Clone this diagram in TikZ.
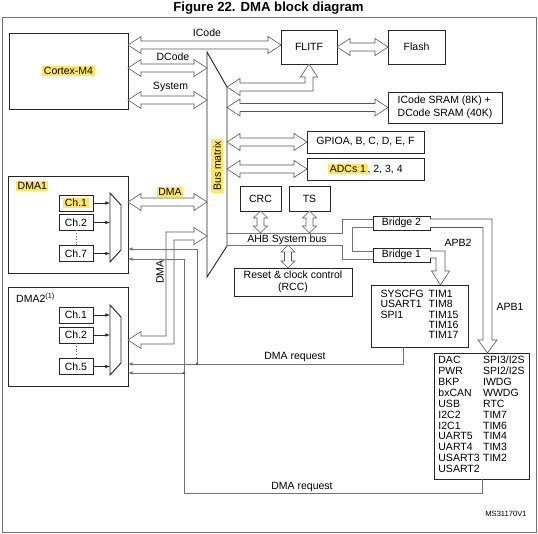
\documentclass[tikz,border=0pt]{standalone}
\usepackage{fontspec}
\setmainfont{Liberation Sans}
\usepackage{xcolor}
\usetikzlibrary{arrows,positioning,calc}
\definecolor{hl}{RGB}{255,230,95}
\newcommand\hlt[1]{{\setlength{\fboxsep}{1.5pt}\colorbox{hl}{#1}}}
% wide hollow two-headed bus arrows
\newcommand\hbus[2]{\draw[busline] let \p1=#1, \p2=#2 in
  (\x1,\y1) -- ++(13pt,8.5pt) -- ++(0pt,-4.5pt) -- (\x2-13pt,\y1+4pt) -- ++(0pt,4.5pt)
  -- (\x2,\y1) -- ++(-13pt,-8.5pt) -- ++(0pt,4.5pt) -- (\x1+13pt,\y1-4pt) -- ++(0pt,-4.5pt) -- cycle;}
\newcommand\vbus[2]{\draw[busline] let \p1=#1, \p2=#2 in
  (\x1,\y1) -- ++(7pt,-7pt) -- ++(-3.5pt,0pt) -- (\x1+3.5pt,\y2+7pt) -- ++(3.5pt,0pt)
  -- (\x1,\y2) -- ++(-7pt,7pt) -- ++(3.5pt,0pt) -- (\x1-3.5pt,\y1-7pt) -- ++(-3.5pt,0pt) -- cycle;}

\begin{document}
\begin{tikzpicture}[x=1pt, y=-1pt,
    every node/.style={font=\fontsize{10.5}{12.5}\selectfont},
    box/.style={draw=black!85, line width=0.9pt, fill=white, inner sep=2pt, outer sep=0pt},
    chbox/.style={box, minimum width=34pt, minimum height=16pt, inner sep=0pt},
    busline/.style={draw=black!65, line width=0.6pt, fill=white, line join=miter},
    wire/.style={draw=black!55, line width=0.6pt},
    req/.style={wire, ->, >=latex},
    charrow/.style={->, >=latex, line width=0.6pt, black!85}
]
\useasboundingbox (0,0) rectangle (538,534);
\node[font=\bfseries\fontsize{13.2}{15}\selectfont] (title) at (268.5,8) {Figure 22. DMA block diagram};
\draw[wire] (2,17) rectangle (536,532);

% core, memories and AHB slaves
\node[box, minimum width=119pt, minimum height=76pt] (cortex) at (68.5,71) {\hlt{Cortex-M4}};
\node[box, minimum width=56pt, minimum height=34pt] (flitf) at (309,47) {FLITF};
\node[box, minimum width=57pt, minimum height=34pt] (flash) at (416.5,47) {Flash};
\node[box, minimum width=114pt, minimum height=31pt, align=left,
      font=\fontsize{10.5}{13}\selectfont] (sram) at (445,107.5) {ICode SRAM (8K) +\\DCode SRAM (40K)};
\node[box, minimum width=117pt, minimum height=22pt] (gpio) at (365.5,142) {GPIOA, B, C, D, E, F};
\node[box, minimum width=117pt, minimum height=22pt] (adc) at (365.5,169) {\hlt{ADCs 1}, 2, 3, 4};

% bus matrix
\draw[box] (207,52) -- (227,87) -- (227,246) -- (207,277) -- cycle;
\coordinate (bm) at (207,0);
\coordinate (bmr) at (227,0);
\node[rotate=90, fill=hl, inner sep=2.5pt] (bmlabel) at (217,166) {Bus matrix};

\node[box, minimum width=41pt, minimum height=25pt] (crc) at (260.5,198.5) {CRC};
\node[box, minimum width=41pt, minimum height=25pt] (ts) at (309.5,198.5) {TS};
\node[box, minimum width=57pt, minimum height=14pt, inner sep=1pt] (bridge2) at (401.5,223) {Bridge 2};
\node[box, minimum width=57pt, minimum height=14pt, inner sep=1pt] (bridge1) at (401.5,255) {Bridge 1};
\node[box, minimum width=118pt, minimum height=28pt, align=center] (rcc) at (293,282) {Reset \& clock control\\(RCC)};

\node[box, minimum width=97pt, minimum height=62pt, font=\fontsize{10.5}{10.4}\selectfont] (apb2) at (419.5,316)
  {\begin{tabular}{@{}l@{\hspace{5pt}}l@{}}SYSCFG & TIM1\\ USART1 & TIM8\\ SPI1 & TIM15\\ & TIM16\\ & TIM17\end{tabular}};
\node[box, minimum width=95pt, minimum height=126pt, font=\fontsize{10.5}{10.9}\selectfont] (apb1) at (481.5,416)
  {\begin{tabular}{@{}l@{\hspace{3.5pt}}l@{}}DAC & SPI3/I2S\\ PWR & SPI2/I2S\\ BKP & IWDG\\ bxCAN & WWDG\\ USB & RTC\\
   I2C2 & TIM7\\ I2C1 & TIM6\\ UART5 & TIM4\\ UART4 & TIM3\\ USART3 & TIM2\\ USART2 &\end{tabular}};

% DMA controllers
\node[box, minimum width=120pt, minimum height=97pt] (dma1) at (68,224.5) {};
\node[anchor=west, inner sep=0pt] (dma1lbl) at (16,186) {\hlt{DMA1}};
\node[chbox] (ch11) at (76,203) {\hlt{Ch.1}};
\node[chbox] (ch12) at (76,222.5) {Ch.2};
\node[chbox] (ch17) at (76,253.5) {Ch.7};
\draw[box, fill=none] (110,193) -- (121,205) -- (121,250) -- (110,262) -- cycle;
\coordinate (m1) at (110,0);
\foreach \c in {ch11,ch12,ch17} \draw[charrow] (\c.east) -- (\c.east -| m1);
\draw[dotted, black!60, thick] (ch12.south) -- (ch17.north);

\node[box, minimum width=120pt, minimum height=99pt] (dma2) at (68,336.5) {};
\node[anchor=west, inner sep=0pt] (dma2lbl) at (16,298) {DMA2\textsuperscript{(1)}};
\node[chbox] (ch21) at (76,315) {Ch.1};
\node[chbox] (ch22) at (76,335) {Ch.2};
\node[chbox] (ch25) at (76,366.5) {Ch.5};
\draw[box, fill=none] (110,305) -- (121,317) -- (121,363) -- (110,375) -- cycle;
\foreach \c in {ch21,ch22,ch25} \draw[charrow] (\c.east) -- (\c.east -| m1);
\draw[dotted, black!60, thick] (ch22.south) -- (ch25.north);

% buses
\hbus{(cortex.east |- 0,45)}{(flitf.west |- 0,45)}
\hbus{(cortex.east |- 0,68)}{(bm |- 0,68)}
\hbus{(cortex.east |- 0,100)}{(bm |- 0,100)}
\hbus{(flitf.east)}{(flash.west)}
\hbus{(bmr |- sram)}{(sram.west)}
\hbus{(bmr |- gpio)}{(gpio.west)}
\hbus{(bmr |- adc)}{(adc.west)}
\hbus{(dma1.east |- 0,202)}{(bm |- 0,202)}
\draw[busline] (227,87) -- (240,78.5) -- (240,83) -- (305,83) -- (305,77) -- (300.5,77) -- (flitf.south)
  -- (317.5,77) -- (313,77) -- (313,91) -- (240,91) -- (240,95.5) -- cycle;
\draw[busline] (207,236) -- (194,227.5) -- (194,232) -- (166,232) -- (166,336) -- (141,336) -- (141,331.5)
  -- (dma2.east |- 0,340) -- (141,348.5) -- (141,344) -- (174,344) -- (174,240) -- (194,240) -- (194,244.5) -- cycle;

\node (icode) at (207,33) {ICode};
\node (dcode) at (173,57) {DCode};
\node (system) at (170.5,87) {System};
\node[fill=hl, inner sep=1.5pt] (dmalbl) at (170,192) {DMA};
\node[rotate=90] (dma2bus) at (160,272) {DMA};

% AHB and APB
\coordinate (ahbT) at (227,233);
\coordinate (ahbB) at (227,245);
\draw[wire] (ahbT) -- (342,233) |- (bridge2.west |- 0,219);
\draw[wire] (bridge2.west |- 0,227) -| (352,251) -- (bridge1.west |- 0,251);
\draw[wire] (ahbB) -- (342,245) |- (bridge1.west |- 0,259);
\node (ahb) at (287,239.5) {AHB System bus};
\vbus{(crc.south)}{(crc.south |- ahbT)}
\vbus{(ts.south)}{(ts.south |- ahbT)}
\vbus{(288,245)}{(rcc.north -| 288,0)}

\draw[busline] (bridge1.east |- 0,251) -- (445,251) -- (445,271) -- (449.5,271) -- (apb2.north -| 440.5,0)
  -- (431.5,271) -- (436,271) -- (436,258) -- (bridge1.east |- 0,258);
\draw[busline] (bridge2.east |- 0,219) -- (492,219) -- (492,340) -- (497,340) -- (apb1.north -| 487.5,0)
  -- (478,340) -- (483,340) -- (483,227.5) -- (bridge2.east |- 0,227.5);
\node (apb2lbl) at (458,243) {APB2};
\node (apb1lbl) at (510,307) {APB1};

% DMA requests
\draw[req] (apb2.south -| 403,0) |- (dma2.east |- 0,364);
\draw[req] (197,364) |- (dma1.east |- 0,249);
\fill[black!70] (197,364) circle (1.3pt);
\draw[req] (apb1.south -| 482,0) |- (184,493) -- (184,259) -- (dma1.east |- 0,259);
\draw[req] (184,373) -- (dma2.east |- 0,373);
\fill[black!70] (184,373) circle (1.3pt);
\node (req1) at (295,357) {DMA request};
\node (req2) at (302,487) {DMA request};

\node[font=\fontsize{7.6}{9}\selectfont] (ms) at (506,514) {MS31170V1};
\end{tikzpicture}
\end{document}
